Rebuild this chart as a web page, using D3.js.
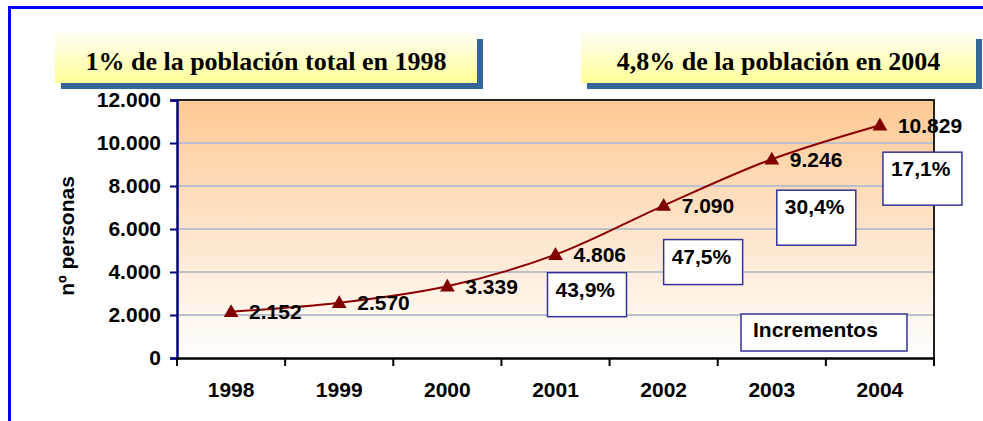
<!DOCTYPE html>
<html>
<head>
<meta charset="utf-8">
<script src="https://cdn.jsdelivr.net/npm/d3@7"></script>
<style>
  body { margin: 0; background: #fff; }
  svg { display: block; }
</style>
</head>
<body>
<div id="chart"></div>
<script>
// data
var years = ['1998', '1999', '2000', '2001', '2002', '2003', '2004'];
var personas = [2152, 2570, 3339, 4806, 7090, 9246, 10829];
var valueLabels = ['2.152', '2.570', '3.339', '4.806', '7.090', '9.246', '10.829'];
var yTicks = [0, 2000, 4000, 6000, 8000, 10000, 12000];
var yTickLabels = ['0', '2.000', '4.000', '6.000', '8.000', '10.000', '12.000'];
var incYears = ['2001', '2002', '2003', '2004'];
var increments = ['43,9%', '47,5%', '30,4%', '17,1%'];
var titles = ['1% de la población total en 1998', '4,8% de la población en 2004'];

var width = 983,
    height = 421;

var margin = {top: 100, right: 49, bottom: 63, left: 177};

var sans = '"Liberation Sans", Arial, sans-serif';

var svg = d3.select('#chart').append('svg')
    .attr('width', width)
    .attr('height', height);

var defs = svg.append('defs');

var bgGrad = defs.append('linearGradient')
    .attr('id', 'bgGrad')
    .attr('x1', 0).attr('y1', 0).attr('x2', 0).attr('y2', 1);
bgGrad.append('stop').attr('offset', '0%').attr('stop-color', '#ffc994');
bgGrad.append('stop').attr('offset', '100%').attr('stop-color', '#ffffff');

var titleGrad = defs.append('linearGradient')
    .attr('id', 'titleGrad')
    .attr('x1', 0).attr('y1', 0).attr('x2', 0).attr('y2', 1);
titleGrad.append('stop').attr('offset', '0%').attr('stop-color', '#fffff4');
titleGrad.append('stop').attr('offset', '100%').attr('stop-color', '#ffff99');

// blue frame (top and left edges only are visible)
svg.append('path')
    .attr('d', 'M9.5,' + height + 'V7.5H' + width)
    .style('fill', 'none')
    .style('stroke', '#0000ff')
    .style('stroke-width', 3);

// title boxes
var titleBoxes = [{x: 55, w: 422}, {x: 581, w: 395}];
titleBoxes.forEach(function(b, i) {
    svg.append('rect')
        .attr('x', b.x + 6).attr('y', 39)
        .attr('width', b.w).attr('height', 50)
        .style('fill', '#336699');
    svg.append('rect')
        .attr('x', b.x).attr('y', 33)
        .attr('width', b.w).attr('height', 50)
        .style('fill', 'url(#titleGrad)');
    svg.append('text')
        .attr('x', b.x + b.w / 2)
        .attr('y', 70)
        .attr('text-anchor', 'middle')
        .style('font-family', '"Liberation Serif", "Times New Roman", serif')
        .style('font-weight', 'bold')
        .style('font-size', '26px')
        .text(titles[i]);
});

var x = d3.scaleBand()
    .domain(years)
    .range([margin.left, width - margin.right]);

var y = d3.scaleLinear()
    .domain([0, 12000])
    .range([height - margin.bottom, margin.top]);

// plot background
svg.append('rect')
    .attr('x', x.range()[0])
    .attr('y', y(12000))
    .attr('width', x.range()[1] - x.range()[0])
    .attr('height', y(0) - y(12000))
    .style('fill', 'url(#bgGrad)');

// gridlines
svg.append('g').selectAll('line')
    .data(yTicks.slice(1, -1))
    .enter().append('line')
    .attr('x1', x.range()[0])
    .attr('x2', x.range()[1])
    .attr('y1', function(d) { return y(d); })
    .attr('y2', function(d) { return y(d); })
    .style('stroke', '#bcc0c8')
    .style('stroke-width', 2);

// top and right border
svg.append('path')
    .attr('d', 'M' + x.range()[0] + ',' + y(12000) + 'H' + x.range()[1] + 'V' + y(0))
    .style('fill', 'none')
    .style('stroke', '#222')
    .style('stroke-width', 2);

// y axis
var yAxis = d3.axisLeft(y)
    .tickValues(yTicks)
    .tickSize(7)
    .tickPadding(9)
    .tickFormat(function(d, i) { return yTickLabels[i]; });

var gy = svg.append('g')
    .attr('transform', 'translate(' + x.range()[0] + ',0)')
    .call(yAxis);
gy.select('.domain').style('stroke', '#000080').style('stroke-width', 2.5);
gy.selectAll('.tick line').style('stroke', '#000080').style('stroke-width', 2);
gy.selectAll('.tick text')
    .style('font-family', sans)
    .style('font-weight', 'bold')
    .style('font-size', '21px')
    .style('fill', '#000');

// x axis
var xAxis = d3.axisBottom(x)
    .tickSize(0)
    .tickPadding(24);

var gx = svg.append('g')
    .attr('transform', 'translate(0,' + y(0) + ')')
    .call(xAxis);
gx.select('.domain').style('stroke', '#000').style('stroke-width', 2.5);
gx.selectAll('.tick text')
    .style('font-family', sans)
    .style('font-weight', 'bold')
    .style('font-size', '21px')
    .style('fill', '#000');

// category separators below the axis
var sepPos = years.map(function(d) { return x(d); }).concat([x.range()[1]]);
gx.selectAll('.sep')
    .data(sepPos)
    .enter().append('line')
    .attr('class', 'sep')
    .attr('x1', function(d) { return d; })
    .attr('x2', function(d) { return d; })
    .attr('y1', 0)
    .attr('y2', 8)
    .style('stroke', '#000')
    .style('stroke-width', 2);

// y title
svg.append('text')
    .attr('transform', 'translate(74,' + ((y(0) + y(12000)) / 2 + 7) + ') rotate(-90)')
    .attr('text-anchor', 'middle')
    .style('font-family', sans)
    .style('font-weight', 'bold')
    .style('font-size', '21px')
    .text('nº personas');

// line
var cx = function(d, i) { return x(years[i]) + x.bandwidth() / 2; };

var line = d3.line()
    .x(cx)
    .y(function(d) { return y(d); })
    .curve(d3.curveCatmullRom.alpha(0.5));

svg.append('path')
    .datum(personas)
    .attr('d', line)
    .style('fill', 'none')
    .style('stroke', '#8b0000')
    .style('stroke-width', 2);

// markers
var tri = d3.symbol().type(d3.symbolTriangle).size(95);
svg.append('g').selectAll('path')
    .data(personas)
    .enter().append('path')
    .attr('d', tri)
    .attr('transform', function(d, i) { return 'translate(' + cx(d, i) + ',' + (y(d) + 1) + ')'; })
    .style('fill', '#800000');

// value labels
svg.append('g').selectAll('text')
    .data(personas)
    .enter().append('text')
    .attr('x', function(d, i) { return cx(d, i) + 18; })
    .attr('y', function(d) { return y(d); })
    .attr('dy', '0.36em')
    .style('font-family', sans)
    .style('font-weight', 'bold')
    .style('font-size', '21px')
    .text(function(d, i) { return valueLabels[i]; });

// increment boxes, placed relative to the point they describe
var boxOffsets = [{dx: -8, dy: 18, h: 44}, {dx: 0, dy: 34, h: 45}, {dx: 5, dy: 31, h: 55}, {dx: 3, dy: 27, h: 53}];
var incBoxes = svg.append('g').selectAll('g')
    .data(increments)
    .enter().append('g')
    .attr('transform', function(d, i) {
        var k = years.indexOf(incYears[i]);
        var bx = cx(null, k) + boxOffsets[i].dx;
        var by = y(personas[k]) + boxOffsets[i].dy;
        return 'translate(' + bx + ',' + by + ')';
    });

incBoxes.append('rect')
    .attr('width', 79)
    .attr('height', function(d, i) { return boxOffsets[i].h; })
    .style('fill', '#fff')
    .style('stroke', '#333399')
    .style('stroke-width', 1.5);

incBoxes.append('text')
    .attr('x', 8)
    .attr('y', 24)
    .style('font-family', sans)
    .style('font-weight', 'bold')
    .style('font-size', '21px')
    .text(function(d) { return d; });

// "Incrementos" legend box
var legend = svg.append('g')
    .attr('transform', 'translate(' + (x.range()[1] - 193) + ',' + (y(0) - 44) + ')');
legend.append('rect')
    .attr('width', 166)
    .attr('height', 37)
    .style('fill', '#fff')
    .style('stroke', '#333399')
    .style('stroke-width', 1.5);
legend.append('text')
    .attr('x', 12)
    .attr('y', 23)
    .style('font-family', sans)
    .style('font-weight', 'bold')
    .style('font-size', '21px')
    .text('Incrementos');
</script>
</body>
</html>
